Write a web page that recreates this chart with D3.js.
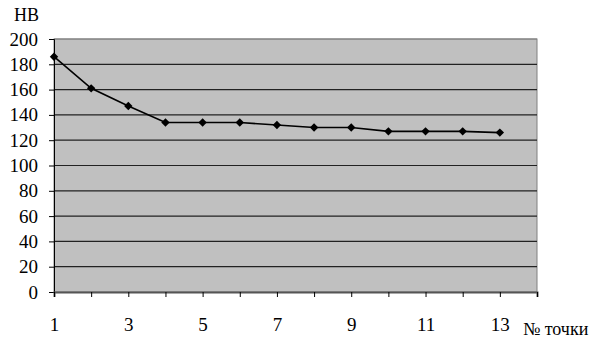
<!DOCTYPE html>
<html>
<head>
<meta charset="utf-8">
<script src="https://cdn.jsdelivr.net/npm/d3@7"></script>
<style>
  body { margin: 0; background: #fff; font-family: 'Liberation Serif'; }
  svg, svg text { font-family: 'Liberation Serif' !important; }
</style>
</head>
<body>
<div id="main"></div>
<script>
// data
var points = [1, 2, 3, 4, 5, 6, 7, 8, 9, 10, 11, 12, 13];
var hb = [186, 161, 147, 134, 134, 134, 132, 130, 130, 127, 127, 127, 126];
var yTicks = [0, 20, 40, 60, 80, 100, 120, 140, 160, 180, 200];
var xTickLabels = [1, 3, 5, 7, 9, 11, 13];

var W = 601, H = 344;
var margin = {top: 39, right: 64, bottom: 52, left: 54},
    width = W - margin.left - margin.right,
    height = H - margin.top - margin.bottom;

var svg = d3.select("#main")
  .append("svg")
    .attr("width", W)
    .attr("height", H)
    .attr("font-family", "Liberation Serif")
  .append("g")
    .attr("transform", "translate(" + margin.left + "," + margin.top + ")");

var x = d3.scaleLinear().domain([1, 14]).range([0, width]);
var y = d3.scaleLinear().domain([0, 200]).range([height, 0]);

// plot background
svg.append("rect")
  .attr("width", width)
  .attr("height", height)
  .attr("fill", "#c0c0c0")
  .attr("stroke", "#808080");

// grid lines
svg.selectAll("line.grid")
  .data(yTicks.filter(function(d) { return d > 0; }))
  .enter().append("line")
    .attr("class", "grid")
    .attr("x1", 0).attr("x2", width)
    .attr("y1", function(d) { return y(d); })
    .attr("y2", function(d) { return y(d); })
    .attr("stroke", function(d) { return d == 200 ? "#808080" : "#222"; })
    .attr("stroke-width", 1.2);

// y axis
var yAxis = svg.append("g")
  .call(d3.axisLeft(y).tickValues(yTicks).tickSize(5).tickPadding(11));
yAxis.attr("font-family", "Liberation Serif").attr("font-size", 19);
yAxis.select(".domain").attr("stroke", "#000");
yAxis.selectAll("text").attr("fill", "#000");

// x axis
var xAxis = svg.append("g")
  .attr("transform", "translate(0," + height + ")")
  .call(d3.axisBottom(x).tickValues(d3.range(1, 15)).tickSize(5).tickPadding(21)
    .tickFormat(function(d) { return xTickLabels.indexOf(d) >= 0 ? d : ""; }));
xAxis.attr("font-family", "Liberation Serif").attr("font-size", 19);
xAxis.select(".domain").attr("stroke", "#555").attr("stroke-width", 2);
xAxis.selectAll("text").attr("fill", "#000");

// line
var line = d3.line()
  .x(function(d, i) { return x(points[i]); })
  .y(function(d) { return y(d); });

svg.append("path")
  .datum(hb)
  .attr("d", line)
  .attr("fill", "none")
  .attr("stroke", "#000")
  .attr("stroke-width", 1.6);

// diamond markers
svg.selectAll("path.marker")
  .data(hb)
  .enter().append("path")
    .attr("class", "marker")
    .attr("d", d3.symbol().type(d3.symbolDiamond2).size(45))
    .attr("transform", function(d, i) { return "translate(" + x(points[i]) + "," + y(d) + ")"; })
    .attr("fill", "#000");

// axis titles
svg.append("text")
  .attr("x", -40)
  .attr("y", -18)
  .attr("font-size", 18)
  .text("НВ");

svg.append("text")
  .attr("x", 469)
  .attr("y", height + 43)
  .attr("font-size", 18)
  .text("№ точки");
</script>
</body>
</html>
